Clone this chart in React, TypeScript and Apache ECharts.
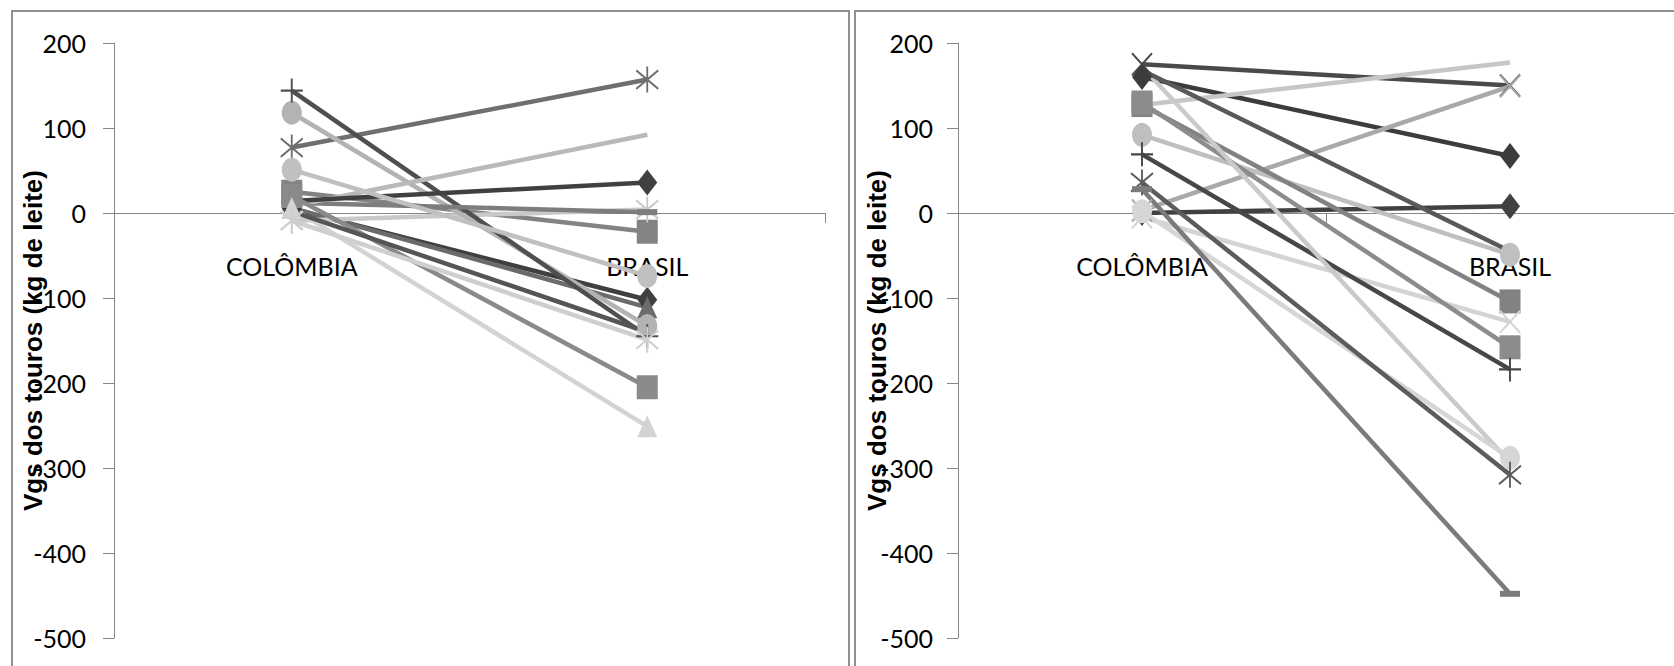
import React, { useEffect, useRef } from 'react';
import * as echarts from 'echarts';

// ---- data -------------------------------------------------------------
const categories = ['COLÔMBIA', 'BRASIL'];
const yMin = -500;
const yMax = 200;
const yStep = 100;
const axisTitle = 'Vgs dos touros (kg de leite)';

// left panel: value in Colômbia and value in Brasil for each bull
const leftColombia = [5, 25, 6, -9, 77, 118, 144, 12, 8, 14, 20, 6, -9, 51, 2];
const leftBrasil = [-102, -22, -111, 4, 157, -133, -145, 1, 92, 36, -205, -251, -149, -74, -140];
const leftMarkers = ['diamond', 'square', 'triangle', 'asterisk', 'asterisk', 'circle', 'plus', 'dash', 'none', 'diamond', 'square', 'triangle', 'asterisk', 'circle', 'none'];
const leftShades = ['#3f3f3f', '#838383', '#6b6b6b', '#c9c9c9', '#6f6f6f', '#b3b3b3', '#4f4f4f', '#7d7d7d', '#b9b9b9', '#404040', '#8a8a8a', '#d3d3d3', '#cfcfcf', '#c0c0c0', '#555555'];

// right panel
const rightColombia = [175, 160, 0, 127, 3, 92, 127, -5, 130, 69, 172, 2, 36, 28, 168];
const rightBrasil = [150, 67, 8, 177, 149, -49, -104, -128, -158, -184, -293, -288, -308, -448, -45];
const rightMarkers = ['x', 'diamond', 'diamond', 'none', 'x', 'circle', 'square', 'x', 'square', 'plus', 'none', 'circle', 'asterisk', 'dash', 'none'];
const rightShades = ['#4a4a4a', '#3c3c3c', '#414141', '#c6c6c6', '#a9a9a9', '#bfbfbf', '#828282', '#d4d4d4', '#8c8c8c', '#474747', '#cacaca', '#d6d6d6', '#5c5c5c', '#7b7b7b', '#595959'];

// ---- styles -----------------------------------------------------------
const SYMBOLS: Record<string, { symbol: string; size?: number[]; stroke?: boolean }> = {
  diamond: { symbol: 'diamond', size: [20, 26] },
  square: { symbol: 'rect', size: [21, 24] },
  triangle: { symbol: 'triangle', size: [20, 22] },
  circle: { symbol: 'circle', size: [20, 24] },
  x: { symbol: 'path://M0,0L10,10M10,0L0,10', size: [20, 22], stroke: true },
  asterisk: { symbol: 'path://M0,0L10,10M10,0L0,10M5,-2L5,12', size: [22, 26], stroke: true },
  plus: { symbol: 'path://M6,0L6,12M0,6L12,6', size: [22, 24], stroke: true },
  dash: { symbol: 'rect', size: [20, 6] },
  none: { symbol: 'none' },
};

const AXIS_GRAY = '#868686';
const GRID_TOP = 43;
const GRID_HEIGHT = 595;
// distance (px) from grid top to the value 0, so the category axis sits on zero
const ZERO_OFFSET = (GRID_HEIGHT * yMax) / (yMax - yMin);

function buildSeries(col: number[], bra: number[], markers: string[], shades: string[], idx: number) {
  return col.map((c, i) => {
    const m = SYMBOLS[markers[i]];
    const color = shades[i];
    return {
      type: 'line',
      name: `Touro ${idx + 1}-${i + 1}`,
      xAxisIndex: idx,
      yAxisIndex: idx,
      data: [c, bra[i]],
      symbol: m.symbol,
      symbolSize: m.size,
      showSymbol: m.symbol !== 'none',
      lineStyle: { color, width: 4.5 },
      itemStyle: m.stroke
        ? { color: 'transparent', borderColor: color, borderWidth: 2 }
        : { color, borderWidth: 0 },
      emphasis: { disabled: true },
      silent: true,
    };
  });
}

function xAxis(gridIndex: number) {
  return {
    type: 'category',
    gridIndex,
    data: categories,
    boundaryGap: true,
    position: 'top',
    offset: -ZERO_OFFSET,
    axisLine: { show: true, onZero: false, lineStyle: { color: AXIS_GRAY, width: 1 } },
    axisTick: { show: true, inside: true, length: 10, lineStyle: { color: AXIS_GRAY } },
    axisLabel: { inside: true, margin: 40, fontFamily: 'Lato', fontSize: 25, color: '#000' },
    splitLine: { show: false },
  };
}

function yAxis(gridIndex: number, labelMargin: number) {
  return {
    type: 'value',
    gridIndex,
    min: yMin,
    max: yMax,
    interval: yStep,
    name: axisTitle,
    nameLocation: 'middle',
    nameGap: 68,
    nameMoveOverlap: false,
    nameTextStyle: { fontFamily: 'Liberation Sans', fontWeight: 'bold', fontSize: 26, color: '#000' },
    axisLine: { show: true, onZero: false, lineStyle: { color: AXIS_GRAY, width: 1 } },
    axisTick: { show: true, length: 11, lineStyle: { color: AXIS_GRAY } },
    axisLabel: { margin: labelMargin, fontFamily: 'Lato', fontSize: 25, color: '#000' },
    splitLine: { show: false },
  };
}

export default function App() {
  const ref = useRef<HTMLDivElement>(null);
  useEffect(() => {
    if (!ref.current) return;
    const chart = echarts.init(ref.current, undefined, { renderer: 'svg' });
    chart.setOption({
      animation: false,
      backgroundColor: '#ffffff',
      grid: [
        { left: 114, top: GRID_TOP, width: 711, height: GRID_HEIGHT, outerBoundsMode: 'none', containLabel: false },
        { left: 958, top: GRID_TOP, width: 736, height: GRID_HEIGHT, outerBoundsMode: 'none', containLabel: false },
      ],
      xAxis: [xAxis(0), xAxis(1)],
      yAxis: [yAxis(0, 28), yAxis(1, 25)],
      graphic: [
        { type: 'rect', shape: { x: 12, y: 11, width: 837, height: 700 }, style: { fill: 'none', stroke: '#8f8f8f', lineWidth: 2 }, silent: true, z: -1 },
        { type: 'rect', shape: { x: 855, y: 11, width: 900, height: 700 }, style: { fill: 'none', stroke: '#8f8f8f', lineWidth: 2 }, silent: true, z: -1 },
      ],
      series: [
        ...buildSeries(leftColombia, leftBrasil, leftMarkers, leftShades, 0),
        ...buildSeries(rightColombia, rightBrasil, rightMarkers, rightShades, 1),
      ],
    });
    return () => chart.dispose();
  }, []);
  return (
    <div
      ref={ref}
      style={{ position: 'absolute', left: 0, top: 0, width: 1674, height: 666, background: '#fff' }}
    />
  );
}
